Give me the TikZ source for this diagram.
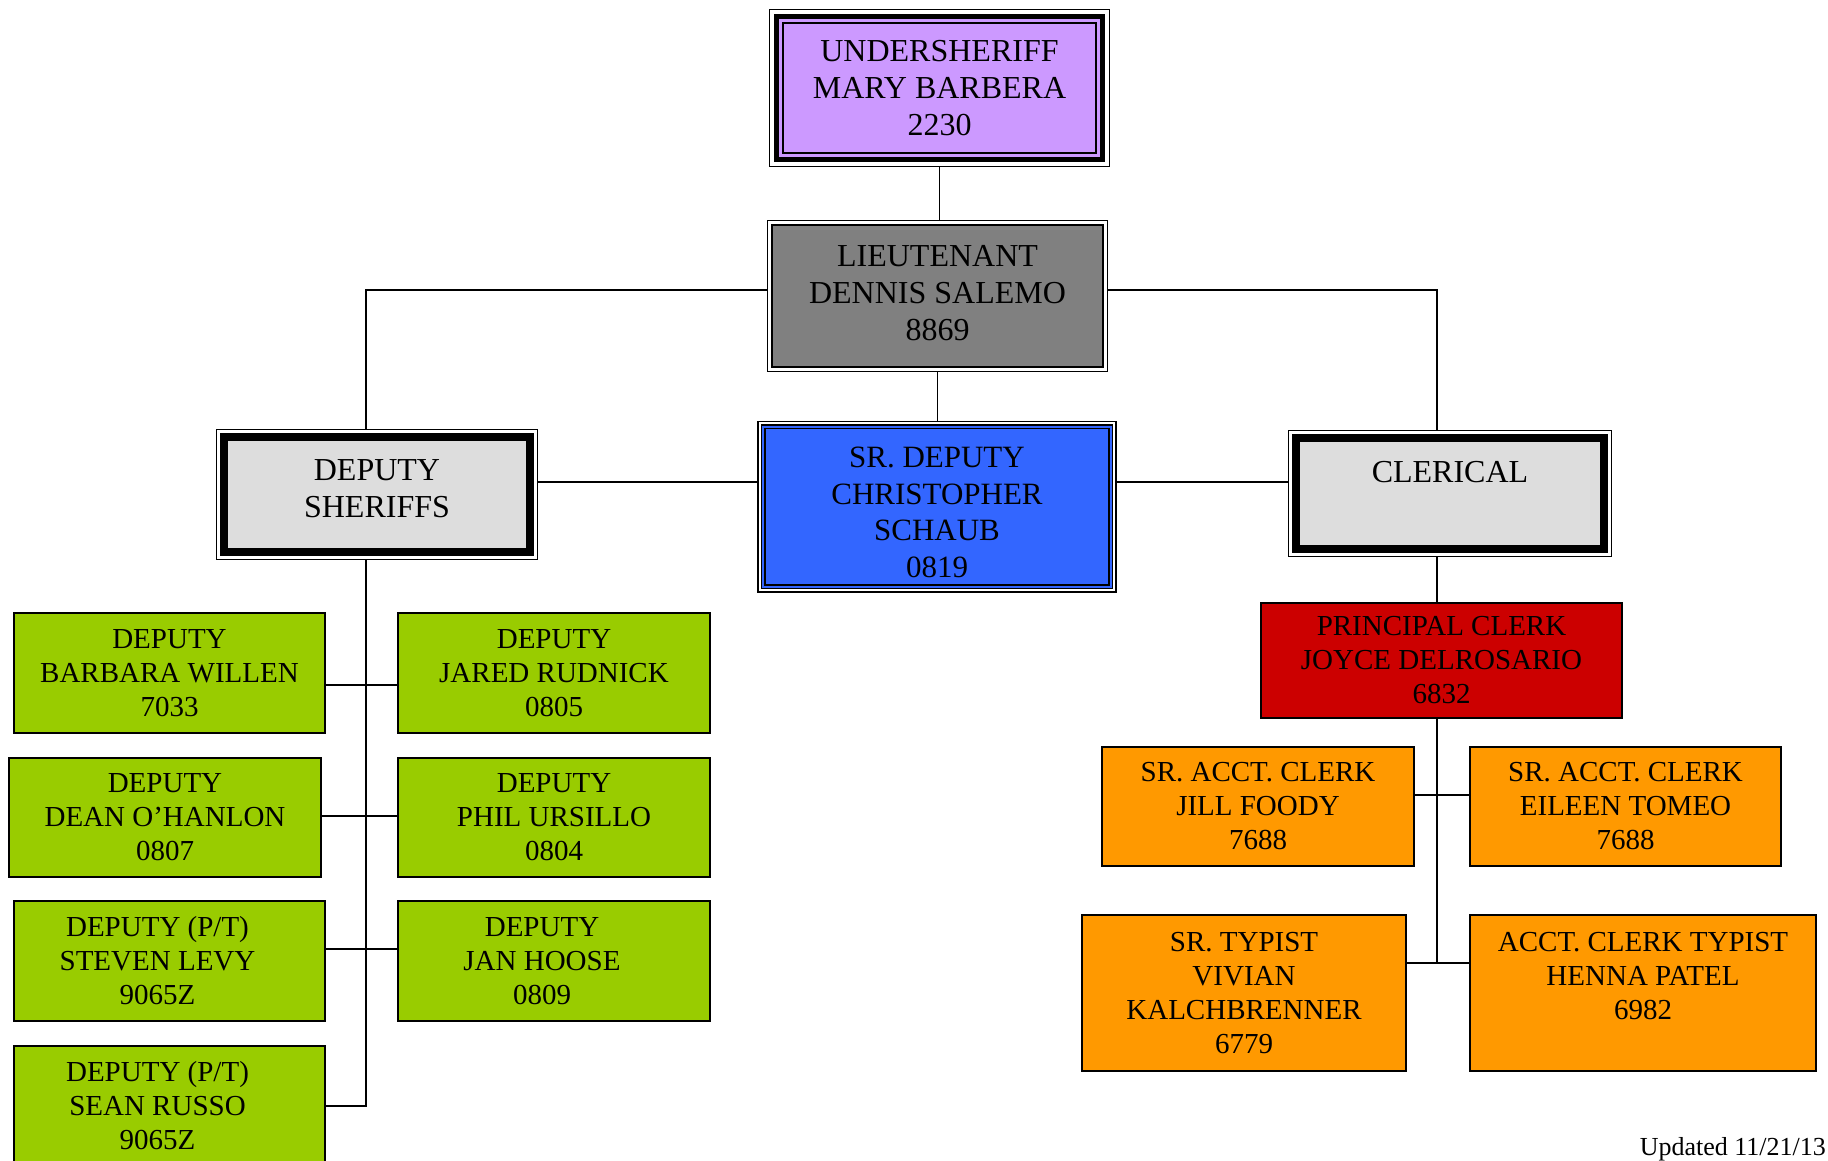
\documentclass[tikz,border=0pt]{standalone}
\usepackage{fontspec}
\setmainfont{Liberation Serif}
\usetikzlibrary{positioning}
\definecolor{lilac}{HTML}{CC99FF}
\definecolor{ltgray}{HTML}{808080}
\definecolor{srblue}{HTML}{3366FF}
\definecolor{unitgray}{HTML}{DDDDDD}
\definecolor{deplime}{HTML}{99CC00}
\definecolor{pcred}{HTML}{CC0000}
\definecolor{clorange}{HTML}{FF9900}

\begin{document}
\begin{tikzpicture}
	 [scale =1]
	 \tikzset{every node/.style={align=center,inner sep=2pt}}
	\tikzstyle{bigtext}=[font=\fontsize{32}{37}\selectfont]
	\tikzstyle{smalltext}=[font=\fontsize{29}{34}\selectfont]
	\tikzstyle{headbox}=[rectangle,bigtext,draw=black,line width=2pt]
	\tikzstyle{unitbox}=[rectangle,bigtext,draw=black,line width=8pt,fill=unitgray,outer sep=7.5pt]
	\tikzstyle{staffbox}=[rectangle,smalltext,draw=black,line width=1.5pt,outer sep=0pt]
	\tikzstyle{wire}=[line width=1.5pt]
	\useasboundingbox (0 pt,0 pt) rectangle (1828 pt,-1160 pt);
	% top of the chart
	\node [headbox,fill=lilac,minimum width=313 pt,minimum height=130 pt,outer sep=13.5pt] (us) at (939.5 pt,-88.0 pt) {UNDERSHERIFF\\MARY BARBERA\\2230};
	\draw[line width=1.2pt] (us.north west) rectangle (us.south east);
	\draw[line width=5pt] ([shift={(7pt,-7pt)}]us.north west) rectangle ([shift={(-7pt,7pt)}]us.south east);
	\draw[line width=3pt,lilac] ([shift={(11pt,-11pt)}]us.north west) rectangle ([shift={(-11pt,11pt)}]us.south east);
	\node [headbox,fill=ltgray,minimum width=331 pt,minimum height=142 pt,outer sep=4.5pt] (lt) at (937.5 pt,-296.0 pt) {LIEUTENANT\\DENNIS SALEMO\\8869\\[-30pt]~};
	\draw[line width=1.5pt] (lt.north west) rectangle (lt.south east);
	\node [headbox,font=\fontsize{31}{36.5}\selectfont,fill=srblue,line width=1.5pt,minimum width=344 pt,minimum height=156.5 pt,outer sep=7pt] (sr) at (937.0 pt,-506.75 pt) {\rule{0pt}{32pt}SR. DEPUTY\\CHRISTOPHER\\SCHAUB\\0819};
	\draw[line width=1.5pt] (sr.north west) rectangle (sr.south east);
	\draw[line width=2pt,srblue] ([shift={(5pt,-5pt)}]sr.north west) rectangle ([shift={(-5pt,5pt)}]sr.south east);
	\draw[line width=1.5pt] ([shift={(3.5pt,-3.5pt)}]sr.north west) rectangle ([shift={(-3.5pt,3.5pt)}]sr.south east);
	\node [unitbox,minimum width=306 pt,minimum height=115 pt] (ds) at (377.0 pt,-494.5 pt) {DEPUTY\\SHERIFFS\\[-25pt]~};
	\draw[line width=1.2pt] (ds.north west) rectangle (ds.south east);
	\node [unitbox,minimum width=308 pt,minimum height=111 pt] (cl) at (1450.0 pt,-493.5 pt) {CLERICAL\\[7pt]~};
	\draw[line width=1.2pt] (cl.north west) rectangle (cl.south east);
	\draw[wire] (us.south) -- (us.south |- lt.north);
	\draw[wire] (lt.south) -- (lt.south |- sr.north);
	\draw[wire] ([yshift=6pt]lt.west) -| ([xshift=-11pt]ds.north);
	\draw[wire] ([yshift=6pt]lt.east) -| ([xshift=-13pt]cl.north);
	\draw[wire] ([yshift=12.5pt]ds.east) -- ([yshift=12.5pt]ds.east -| sr.west);
	\draw[wire] ([yshift=24.75pt]sr.east) -- ([yshift=24.75pt]sr.east -| cl.west);
	% deputies
	\node [staffbox,fill=deplime,minimum width=311 pt,minimum height=120 pt] (d1) at (169.5 pt,-673.0 pt) {DEPUTY\\BARBARA WILLEN\\7033};
	\node [staffbox,fill=deplime,minimum width=312 pt,minimum height=120 pt] (d2) at (554.0 pt,-673.0 pt) {DEPUTY\\JARED RUDNICK\\0805};
	\node [staffbox,fill=deplime,minimum width=312 pt,minimum height=119 pt] (d3) at (165.0 pt,-817.5 pt) {DEPUTY\\DEAN O’HANLON\\0807};
	\node [staffbox,fill=deplime,minimum width=312 pt,minimum height=119 pt] (d4) at (554.0 pt,-817.5 pt) {DEPUTY\\PHIL URSILLO\\0804};
	\node [staffbox,fill=deplime,minimum width=311 pt,minimum height=120 pt,label={[smalltext,xshift=-12pt]center:DEPUTY (P/T)\\STEVEN LEVY\\9065Z}] (d5) at (169.5 pt,-961.0 pt) {};
	\node [staffbox,fill=deplime,minimum width=312 pt,minimum height=120 pt,label={[smalltext,xshift=-12pt]center:DEPUTY\\JAN HOOSE\\0809}] (d6) at (554.0 pt,-961.0 pt) {};
	\node [staffbox,fill=deplime,minimum width=311 pt,minimum height=120 pt,label={[smalltext,xshift=-12pt]center:DEPUTY (P/T)\\SEAN RUSSO\\9065Z}] (d7) at (169.5 pt,-1106.0 pt) {};
	\draw[wire] ([xshift=-11pt]ds.south) |- (d7.east);
	\draw[wire] ([yshift=-12pt]d1.east) -- ([yshift=-12pt]d1.east -| d2.west);
	\draw[wire] ([yshift=1.5pt]d3.east) -- ([yshift=1.5pt]d3.east -| d4.west);
	\draw[wire] ([yshift=12pt]d5.east) -- ([yshift=12pt]d5.east -| d6.west);
	% clerical staff
	\node [staffbox,fill=pcred,minimum width=361 pt,minimum height=115 pt] (pc) at (1441.5 pt,-660.5 pt) {PRINCIPAL CLERK\\JOYCE DELROSARIO\\6832};
	\node [staffbox,fill=clorange,minimum width=312 pt,minimum height=119 pt] (c1) at (1258.0 pt,-806.5 pt) {SR. ACCT. CLERK\\JILL FOODY\\7688};
	\node [staffbox,fill=clorange,minimum width=311 pt,minimum height=119 pt] (c2) at (1625.5 pt,-806.5 pt) {SR. ACCT. CLERK\\EILEEN TOMEO\\7688};
	\node [staffbox,fill=clorange,minimum width=324 pt,minimum height=156 pt] (c3) at (1244.0 pt,-993.0 pt) {SR. TYPIST\\VIVIAN\\KALCHBRENNER\\6779};
	\node [staffbox,fill=clorange,minimum width=346 pt,minimum height=156 pt] (c4) at (1643.0 pt,-993.0 pt) {ACCT. CLERK TYPIST\\HENNA PATEL\\6982\\~};
	\coordinate (cjoin) at ([yshift=30pt]c3.east);
	\draw[wire] ([xshift=-13pt]cl.south) -- ([xshift=-13pt]cl.south |- pc.north);
	\draw[wire] ([xshift=-4.5pt]pc.south) -- ([xshift=-4.5pt]pc.south |- cjoin);
	\draw[wire] ([yshift=11.5pt]c1.east) -- ([yshift=11.5pt]c1.east -| c2.west);
	\draw[wire] (cjoin) -- (cjoin -| c4.west);
	\node [font=\fontsize{26}{30}\selectfont,anchor=base east,inner sep=0pt] (upd) at (1826 pt,-1155 pt) {Updated 11/21/13};
\end{tikzpicture}
\end{document}
